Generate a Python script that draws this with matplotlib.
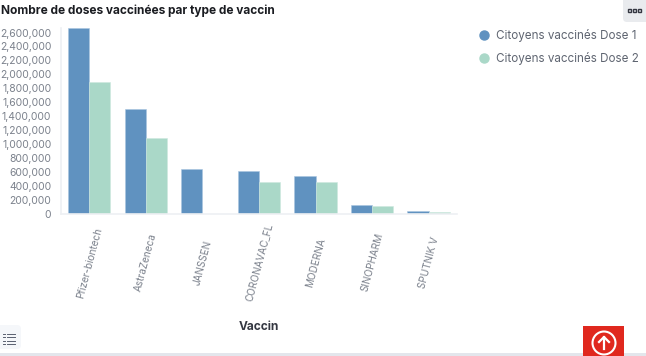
import numpy as np
import matplotlib
matplotlib.use("Agg")
import matplotlib.pyplot as plt
from matplotlib.lines import Line2D
from matplotlib.patches import Circle, FancyBboxPatch, Rectangle
from matplotlib.ticker import MultipleLocator, StrMethodFormatter

plt.rcParams["font.family"] = ["Inter", "DejaVu Sans"]

vaccines = ["Pfizer-biontech", "AstraZeneca", "JANSSEN", "CORONAVAC_FL",
            "MODERNA", "SINOPHARM", "SPUTNIK V"]
dose_1 = [2665000, 1505000, 645000, 610000, 545000, 135000, 40000]
dose_2 = [1895000, 1085000, 0, 455000, 460000, 120000, 35000]
series_names = ["Citoyens vaccinés Dose 1", "Citoyens vaccinés Dose 2"]

BLUE = "#6092c0"
GREEN = "#aad8c8"
GREY = "#7b818c"
W, H = 646, 356

fig = plt.figure(figsize=(W / 100, H / 100), dpi=100)

# decoration layer in pixel coordinates
deco = fig.add_axes([0, 0, 1, 1])
deco.set_xlim(0, W)
deco.set_ylim(H, 0)
deco.axis("off")
deco.add_patch(Rectangle((0, 353), W, 3, color="#e3e6ec", lw=0))
deco.add_patch(FancyBboxPatch((-6, 325), 27, 24, boxstyle="round,pad=0,rounding_size=4",
                              fc="#f5f7fa", ec="none"))
for y in [333.5, 337, 340.5, 344]:
    deco.plot([3, 4.5], [y, y], color="#5a6070", lw=0.7)
    deco.plot([6.5, 15], [y, y], color="#5a6070", lw=0.7)
deco.add_patch(FancyBboxPatch((623, -6), 30, 28, boxstyle="round,pad=0,rounding_size=4",
                              fc="#e9ebee", ec="none"))
for x in [629, 634, 639]:
    deco.add_patch(Rectangle((x - 1.5, 9), 3.2, 3.2, fc="none", ec="#343741", lw=1))
deco.add_patch(Rectangle((583, 326), 41, 30, color="#e0281e", lw=0))
deco.add_patch(Circle((604, 343), 11.5, fc="none", ec="white", lw=1.5))
deco.plot([604, 604], [349, 337], color="white", lw=1.6)
deco.plot([599, 604, 609], [342, 337, 342], color="white", lw=1.6)

ax = fig.add_axes([61 / W, 1 - 214 / H, 396 / W, 186 / H])
x = np.arange(len(vaccines))
bar_w = 0.375
ax.bar(x - bar_w / 2, dose_1, bar_w, color=BLUE, edgecolor="#a9c5df", linewidth=0.4)
ax.bar(x + bar_w / 2, dose_2, bar_w, color=GREEN, edgecolor="#cde8df", linewidth=0.4)
ax.set_xlim(-0.5, 6.5)
ax.set_ylim(0, 2665000)

ax.yaxis.set_major_locator(MultipleLocator(200000))
ax.yaxis.set_major_formatter(StrMethodFormatter("{x:,.0f}"))
ax.tick_params(axis="y", length=0, pad=7, labelsize=7.5, labelcolor=GREY)
ax.set_xticks(x)
ax.set_xticklabels(vaccines, rotation=75, ha="center", va="center", fontsize=7.2, color=GREY)
ax.tick_params(axis="x", length=0, pad=35)

for side in ["top", "right"]:
    ax.spines[side].set_visible(False)
for side in ["left", "bottom"]:
    ax.spines[side].set_color("#eef0f3")
    ax.spines[side].set_linewidth(1.2)

ax.set_xlabel("Vaccin", fontsize=8.6, fontweight="bold", color="#343741", va="center")
ax.xaxis.set_label_coords(0.5, -0.6075)

fig.text(1 / W, 1 - 11 / H, "Nombre de doses vaccinées par type de vaccin", fontsize=8.55,
         fontweight="bold", color="#1a1c21", va="center")

handles = [Line2D([], [], ls="", marker="o", ms=6.5, color=c) for c in [BLUE, GREEN]]
fig.legend(handles, series_names, loc="upper left", bbox_to_anchor=(472 / W, 1 - 29.5 / H),
           frameon=False, fontsize=8.4, labelcolor="#5f6571", labelspacing=0.82,
           handletextpad=0.05, borderpad=0, borderaxespad=0)

fig.savefig("out.png", dpi=100)
